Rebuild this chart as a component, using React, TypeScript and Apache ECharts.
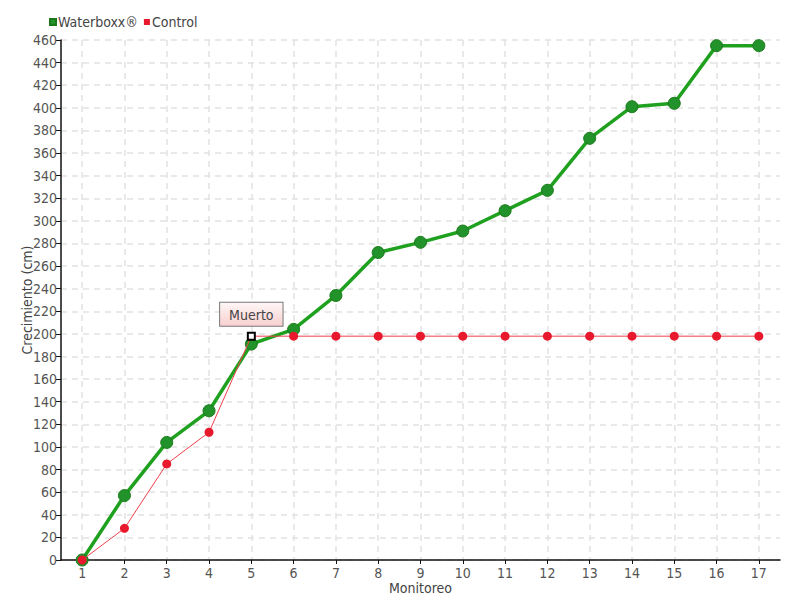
import React, { useEffect, useRef } from "react";
import * as echarts from "echarts";

const categories = ["1","2","3","4","5","6","7","8","9","10","11","12","13","14","15","16","17"];
const waterboxx = [0, 57, 104, 132, 191, 204, 234, 272, 281, 291, 309, 327, 373, 401, 404, 455, 455];
const control = [0, 28, 85, 113, 198, 198, 198, 198, 198, 198, 198, 198, 198, 198, 198, 198, 198];
const deadIndex = 4;
const deadLabel = "Muerto";
const yTicks = { min: 0, max: 460, interval: 20 };

const FONT = "'DejaVu Sans Condensed', 'Liberation Sans Narrow', 'DejaVu Sans', sans-serif";

export default function App() {
  const ref = useRef<HTMLDivElement>(null);
  useEffect(() => {
    if (!ref.current) return;
    const chart = echarts.init(ref.current, null, { renderer: "svg" });
    const controlData = control.map((v, i) =>
      i === deadIndex
        ? {
            value: v,
            symbol: "rect",
            symbolSize: 7,
            itemStyle: { color: "#ffffff", borderColor: "#000000", borderWidth: 2 },
            label: {
              show: true,
              position: "top",
              distance: 6,
              formatter: deadLabel,
              fontFamily: FONT,
              fontSize: 14,
              color: "#444",
              padding: [5, 9, 4, 9],
              borderColor: "#777",
              borderWidth: 1,
              backgroundColor: {
                type: "linear", x: 0, y: 0, x2: 0, y2: 1,
                colorStops: [
                  { offset: 0, color: "#fff6f6" },
                  { offset: 1, color: "#f8d0d0" },
                ],
              },
            },
          }
        : v
    );
    chart.setOption({
      animation: false,
      backgroundColor: "#ffffff",
      textStyle: { fontFamily: FONT },
      legend: {
        left: 44,
        top: 10,
        itemWidth: 6,
        itemHeight: 6,
        itemGap: 6,
        icon: "rect",
        textStyle: { fontFamily: FONT, fontSize: 14, color: "#444", padding: [0, 0, 0, -3] },
        data: ["Waterboxx®", "Control"],
      },
      grid: { left: 61, right: 20, top: 40, bottom: 40, containLabel: false, outerBoundsMode: "none" },
      xAxis: {
        type: "category",
        data: categories,
        boundaryGap: true,
        name: "Monitoreo",
        nameLocation: "middle",
        nameGap: 21,
        nameMoveOverlap: false,
        nameTextStyle: { fontFamily: FONT, fontSize: 14, color: "#444" },
        axisLine: { lineStyle: { color: "#111", width: 1.5 } },
        axisTick: { show: true, alignWithLabel: true, length: 4, lineStyle: { color: "#111" } },
        axisLabel: { fontFamily: FONT, fontSize: 14, color: "#555", margin: 6 },
        splitLine: { show: true, alignWithLabel: true, lineStyle: { color: "#e2e2e2", type: [6, 5], width: 1.5 } },
      },
      yAxis: {
        type: "value",
        min: yTicks.min,
        max: yTicks.max,
        interval: yTicks.interval,
        name: "Crecimiento (cm)",
        nameLocation: "middle",
        nameGap: 27,
        nameMoveOverlap: false,
        nameTextStyle: { fontFamily: FONT, fontSize: 14, color: "#444" },
        axisLine: { show: true, lineStyle: { color: "#111", width: 1.5 } },
        axisTick: { show: true, length: 5, lineStyle: { color: "#111" } },
        axisLabel: { fontFamily: FONT, fontSize: 14, color: "#555", margin: 4 },
        splitLine: { show: true, lineStyle: { color: "#e2e2e2", type: [6, 5], width: 1.5 } },
      },
      series: [
        {
          name: "Waterboxx®",
          type: "line",
          data: waterboxx,
          color: "#1fa11f",
          symbol: "circle",
          symbolSize: 12,
          lineStyle: { color: "#1fa11f", width: 3.5 },
          itemStyle: { color: "#22922a", borderColor: "#1a7a1a", borderWidth: 1 },
          z: 2,
        },
        {
          name: "Control",
          type: "line",
          data: controlData,
          color: "#e8192c",
          symbol: "circle",
          symbolSize: 9,
          lineStyle: { color: "#f0404e", width: 1 },
          itemStyle: { color: "#e8192c" },
          z: 3,
        },
      ],
    });
    return () => chart.dispose();
  }, []);
  return <div ref={ref} style={{ width: 800, height: 600, position: "absolute", left: 0, top: 0 }} />;
}
